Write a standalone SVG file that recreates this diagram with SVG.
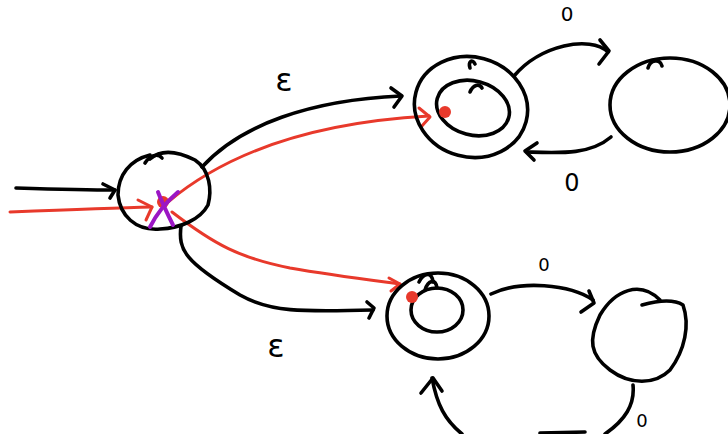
<svg xmlns="http://www.w3.org/2000/svg" width="728" height="434" viewBox="0 0 728 434">
<style>
.k{fill:none;stroke:#000;stroke-width:3.6;stroke-linecap:round;stroke-linejoin:round}
.r{fill:none;stroke:#e8392b;stroke-width:3;stroke-linecap:round;stroke-linejoin:round}
.p{fill:none;stroke:#9b16c4;stroke-width:4;stroke-linecap:round}
.t{font-family:"DejaVu Sans",sans-serif;fill:#000}
</style>
<rect width="728" height="434" fill="#fff"/>
<g id="connectors">
<path class="k" d="M16,188 C50,189 85,190 115,190"/>
<path class="k" d="M103,184 L115,190 L110,198"/>
<path class="r" d="M10,212 C60,210 110,208 152,207"/>
<path class="r" d="M138,200 L152,207 L146,220"/>
<path class="k" d="M202,167 C240,125 310,100 401,96"/>
<path class="k" d="M391,88 L402,96 L394,107"/>
<path class="r" d="M168,202 C230,150 320,122 429,116"/>
<path class="r" d="M419,108 L430,117 L421,127"/>
<path class="k" d="M181,226 C178,250 185,262 240,295 C270,312 300,312 373,310"/>
<path class="k" d="M367,302 L374,308 L369,318"/>
<path class="r" d="M172,212 C215,245 240,258 290,268 C330,275 370,280 400,284"/>
<path class="r" d="M389,278 L400,284 L391,291"/>
<path class="k" d="M514,76 C540,45 590,35 608,52"/>
<path class="k" d="M600,40 L609,51 L599,64"/>
<path class="k" d="M611,137 C590,155 560,153 527,152"/>
<path class="k" d="M537,143 L525,151 L534,160"/>
<path class="k" d="M491,294 C520,280 570,284 593,300"/>
<path class="k" d="M589,291 L594,303 L581,312"/>
<path class="k" d="M633,385 C635,405 625,420 605,434"/>
<path class="k" d="M432,378 C437,405 445,420 462,434"/>
<path class="k" d="M421,393 L433,378 L442,391"/>
<path class="k" d="M540,433 L585,432"/>
</g>
<g id="start">
<path class="k" d="M150,159 C160,150 175,150 195,160 C210,170 212,190 208,205 C200,220 180,228 160,229 C135,231 120,215 118,195 C118,175 130,160 150,155"/>
<path class="k" d="M145,163 C150,155 158,153 162,158"/>
<circle cx="163" cy="202" r="6" fill="#e8392b"/>
<path class="p" d="M158,192 C163,205 168,215 173,225"/>
<path class="p" d="M178,192 C165,203 156,215 150,227"/>
</g>
<g id="q1">
<ellipse class="k" cx="471" cy="107" rx="57" ry="50" transform="rotate(15 471 107)"/>
<ellipse class="k" cx="473" cy="108" rx="37" ry="27" transform="rotate(15 473 108)"/>
<path class="k" d="M470,92 C473,85 479,83 482,88"/>
<path class="k" d="M470,68 C468,62 472,58 475,64"/>
<circle cx="445" cy="112" r="6" fill="#e8392b"/>
</g>
<g id="q2">
<ellipse class="k" cx="670" cy="105" rx="60" ry="47"/>
<path class="k" d="M648,68 C650,60 660,58 662,66"/>
</g>
<g id="q3">
<ellipse class="k" cx="438" cy="316" rx="51" ry="43"/>
<ellipse class="k" cx="437" cy="310" rx="26" ry="22"/>
<path class="k" d="M425,290 C428,280 436,278 437,288"/>
<path class="k" d="M419,282 C424,272 432,272 433,282"/>
<circle cx="412" cy="297" r="6" fill="#e8392b"/>
</g>
<g id="q4">
<path class="k" d="M642,305 C660,300 675,300 683,305 C690,325 685,350 670,370 C655,385 630,385 610,370 C590,355 588,340 600,315 C615,290 640,280 660,300"/>
</g>
<g id="labels">
<text class="t" x="284" y="91" font-size="32" text-anchor="middle">ε</text>
<text class="t" x="276" y="357" font-size="32" text-anchor="middle">ε</text>
<text class="t" x="567" y="21" font-size="20" text-anchor="middle">0</text>
<text class="t" x="572" y="191" font-size="24" text-anchor="middle">0</text>
<text class="t" x="544" y="271" font-size="18" text-anchor="middle">0</text>
<text class="t" x="642" y="427" font-size="18" text-anchor="middle">0</text>
</g>
</svg>
